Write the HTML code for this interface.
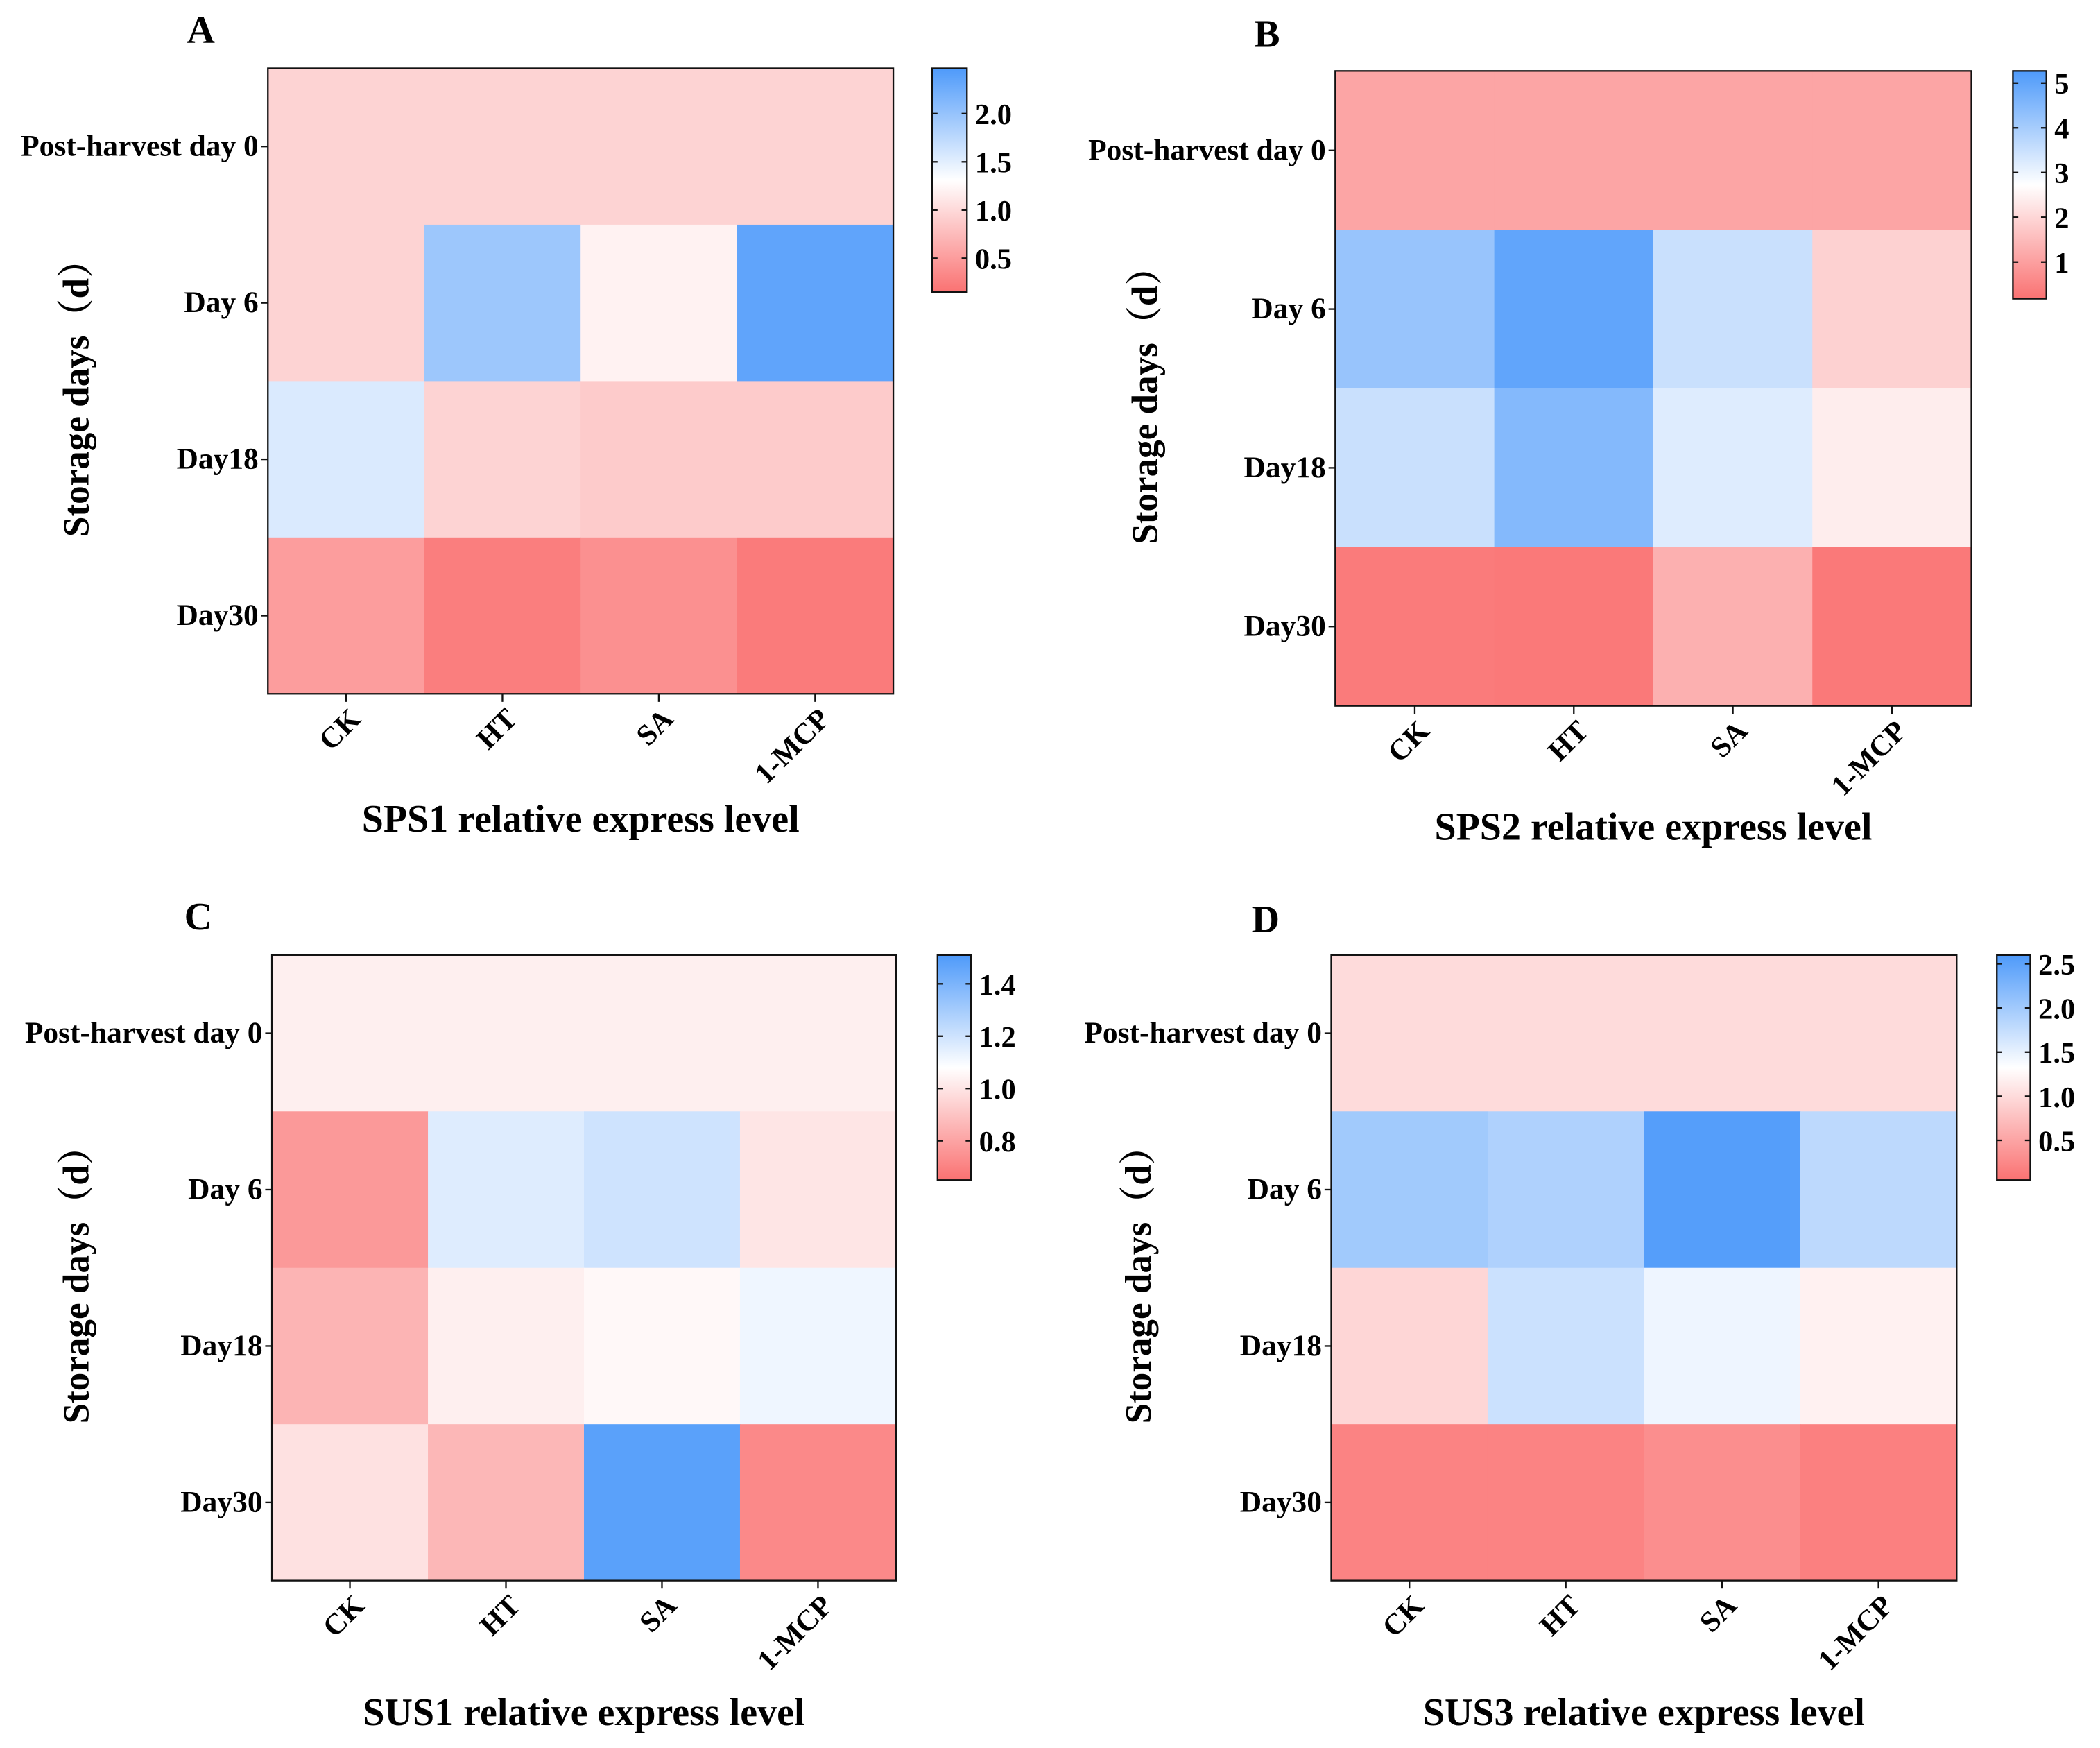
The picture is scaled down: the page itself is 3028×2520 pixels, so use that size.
<!DOCTYPE html>
<html><head><meta charset="utf-8">
<style>
html,body{margin:0;padding:0;background:#fff;}
svg{display:block;}
text{font-family:"Liberation Serif","Noto Serif CJK SC",serif;font-weight:bold;fill:#000;}
</style></head>
<body>
<svg id="fig" width="3028" height="2520" viewBox="0 0 1568 1305" xmlns="http://www.w3.org/2000/svg">
<defs>
<linearGradient id="cbar" x1="0" y1="1" x2="0" y2="0">
<stop offset="0" stop-color="rgb(250,114,114)"/>
<stop offset="0.5" stop-color="rgb(255,255,255)"/>
<stop offset="1" stop-color="rgb(78,154,250)"/>
</linearGradient>
</defs>
</svg>
<script>
const rows = ["Post-harvest day 0","Day 6","Day18","Day30"];
const cols = ["CK","HT","SA","1-MCP"];
const sps1Values = [[0.95,0.95,0.95,0.95],[0.95,1.95,1.2,2.35],[1.55,0.95,0.88,0.88],[0.5,0.25,0.4,0.22]];
const sps2Values = [[1.1,1.1,1.1,1.1],[4.2,5.0,3.5,1.9],[3.5,4.5,3.2,2.4],[0.35,0.3,1.3,0.3]];
const sus1Values = [[1.03,1.03,1.03,1.03],[0.77,1.16,1.2,1.0],[0.85,1.03,1.06,1.12],[0.99,0.86,1.48,0.72]];
const sus3Values = [[1.0,1.0,1.0,1.0],[2.0,1.9,2.55,1.8],[0.95,1.7,1.45,1.2],[0.2,0.2,0.3,0.18]];
const sps1Ticks = [0.5,1.0,1.5,2.0];
const sps2Ticks = [1,2,3,4,5];
const sus1Ticks = [0.8,1.0,1.2,1.4];
const sus3Ticks = [0.5,1.0,1.5,2.0,2.5];
const sps1Range = [0.15,2.47];
const sps2Range = [0.18,5.27];
const sus1Range = [0.65,1.51];
const sus3Range = [0.05,2.6];

const NS="http://www.w3.org/2000/svg";
const svg=document.getElementById('fig');
function mk(tag,attrs,parent,txt){const e=document.createElementNS(NS,tag);for(const k in attrs)e.setAttribute(k,attrs[k]);if(txt!==undefined)e.textContent=txt;(parent||svg).appendChild(e);return e;}
const RED=[250,114,114],WHITE=[255,255,255],BLUE=[78,154,250];
function color(v,lo,hi){let t=(v-lo)/(hi-lo);t=Math.max(0,Math.min(1,t));let a,b,u;if(t<0.5){a=RED;b=WHITE;u=t/0.5;}else{a=WHITE;b=BLUE;u=(t-0.5)/0.5;}return `rgb(${a.map((c,i)=>Math.round(c+(b[i]-c)*u)).join(',')})`;}
function fmt(t,ticks){return ticks.some(x=>x%1!==0)?t.toFixed(1):String(t);}

function panel(cfg){
  const g=mk('g',{});
  
  
  const {x0,y0,x1,y1,vals,ticks,range,cb}=cfg;
  const cw=(x1-x0)/cols.length, rh=(y1-y0)/rows.length;
  const xs=i=>x0+i*cw, ys=j=>y0+j*rh;
  vals.forEach((row,j)=>row.forEach((v,i)=>{
    const r=mk('rect',{x:xs(i),y:ys(j),width:cw+0.3,height:rh+0.3,fill:color(v,range[0],range[1])},g);
    
    
  }));
  mk('rect',{x:x0,y:y0,width:x1-x0,height:y1-y0,fill:'none',stroke:'#111','stroke-width':1.2},g);
  rows.forEach((r,j)=>{
    const yc=ys(j)+rh/2;
    mk('line',{x1:x0-5,x2:x0,y1:yc,y2:yc,stroke:'#111','stroke-width':1.2},g);
    const t=mk('text',{x:x0-7,y:yc+7,'text-anchor':'end','font-size':22.5},g,r);
    
    
  });
  cols.forEach((c,i)=>{
    const xc=xs(i)+cw/2;
    mk('line',{x1:xc,x2:xc,y1:y1,y2:y1+6,stroke:'#111','stroke-width':1.2},g);
    const t=mk('text',{x:0,y:0,'text-anchor':'end','font-size':22,transform:`translate(${xc+12},${y1+20}) rotate(-45)`},g,c);
    
    
  });
  const yt=mk('text',{x:0,y:0,'text-anchor':'middle','font-size':27.5,transform:`translate(${cfg.ytx},${(y0+y1)/2+6}) rotate(-90)`},g,'Storage days（d）');
  
  
  const xt=mk('text',{x:(x0+x1)/2,y:cfg.xty,'text-anchor':'middle','font-size':29},g,cfg.title);
  
  
  const lt=mk('text',{x:cfg.lx,y:cfg.ly,'text-anchor':'middle','font-size':29},g,cfg.letter);
  
  
  const [cx0,cy0,cx1,cy1]=cb;
  const bar=mk('rect',{x:cx0,y:cy0,width:cx1-cx0,height:cy1-cy0,fill:'url(#cbar)',stroke:'#111','stroke-width':1.2},g);
  
  
  const cy=v=>cy1-(v-range[0])/(range[1]-range[0])*(cy1-cy0);
  ticks.forEach(t=>{
    const y=cy(t);
    mk('line',{x1:cx0,x2:cx0+4,y1:y,y2:y,stroke:'#111','stroke-width':1.2},g);
    mk('line',{x1:cx1-4,x2:cx1,y1:y,y2:y,stroke:'#111','stroke-width':1.2},g);
    const tl=mk('text',{x:cx1+6,y:y+8,'font-size':22},g,fmt(t,ticks));
    
    
  });
}
panel({name:'sps1',letter:'A',lx:150,ly:32,x0:200,y0:51,x1:667,y1:518,vals:sps1Values,ticks:sps1Ticks,range:sps1Range,cb:[696,51,722,218],ytx:66,xty:621,title:'SPS1 relative express level'});
panel({name:'sps2',letter:'B',lx:946,ly:35,x0:997,y0:53,x1:1472,y1:527,vals:sps2Values,ticks:sps2Ticks,range:sps2Range,cb:[1503,53,1528,223],ytx:864,xty:627,title:'SPS2 relative express level'});
panel({name:'sus1',letter:'C',lx:148,ly:694,x0:203,y0:713,x1:669,y1:1180,vals:sus1Values,ticks:sus1Ticks,range:sus1Range,cb:[700,713,725,881],ytx:66,xty:1288,title:'SUS1 relative express level'});
panel({name:'sus3',letter:'D',lx:945,ly:696,x0:994,y0:713,x1:1461,y1:1180,vals:sus3Values,ticks:sus3Ticks,range:sus3Range,cb:[1491,713,1516,881],ytx:859,xty:1288,title:'SUS3 relative express level'});
</script>
</body></html>
